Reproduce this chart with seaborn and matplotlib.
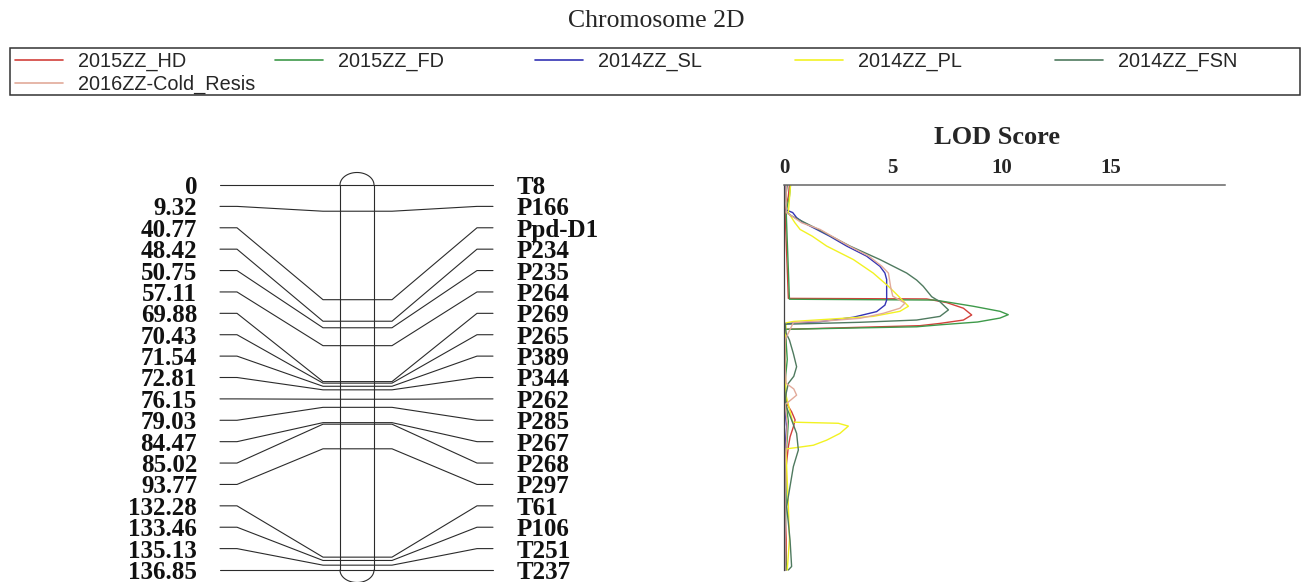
# %%
"""
Mapa de ligamiento del cromosoma 2D con curvas de LOD (estilo MapChart).
"""

import numpy as np
import pandas as pd
import matplotlib
matplotlib.use("Agg")
import matplotlib.pyplot as plt
from matplotlib.lines import Line2D
from matplotlib.patches import Rectangle
import seaborn as sns

# --- datos del mapa ---
positions = [0, 9.32, 40.77, 48.42, 50.75, 57.11, 69.88, 70.43, 71.54, 72.81,
             76.15, 79.03, 84.47, 85.02, 93.77, 132.28, 133.46, 135.13, 136.85]
markers = ["T8", "P166", "Ppd-D1", "P234", "P235", "P264", "P269", "P265", "P389",
           "P344", "P262", "P285", "P267", "P268", "P297", "T61", "P106", "T251", "T237"]
pos_labels = ["0", "9.32", "40.77", "48.42", "50.75", "57.11", "69.88", "70.43",
              "71.54", "72.81", "76.15", "79.03", "84.47", "85.02", "93.77",
              "132.28", "133.46", "135.13", "136.85"]

# --- curvas LOD (posicion cM, LOD) ---
traits = ["2015ZZ_HD", "2015ZZ_FD", "2014ZZ_SL", "2014ZZ_PL", "2014ZZ_FSN",
          "2016ZZ-Cold_Resis"]
colors = ["#d2413b", "#3e9a4a", "#3434b4", "#f2f222", "#4f7a5f", "#e2aa9a"]

hd_cm = [0, 4, 9.3, 20, 30, 40.3, 40.5, 41.8, 43.8, 46.2, 48.0, 49.2, 50.0, 51.3,
         55, 65, 74, 77.7, 80.6, 83.5, 86, 89.5, 93, 100, 115, 126, 136.85]
hd_lod = [0.25, 0.2, 0.05, 0.1, 0.15, 0.2, 6.56, 7.48, 8.25, 8.63, 8.25, 7.17, 6.25,
          0.05, 0.08, 0.05, 0.05, 0.12, 0.35, 0.51, 0.43, 0.28, 0.2, 0.1, 0.05, 0.1, 0.1]

fd_cm = [0, 4, 9.3, 20, 30, 40.6, 40.9, 43.1, 44.9, 46.1, 47.3, 48.7, 49.7, 50.4,
         51.3, 56, 62, 70, 78, 84, 90, 100, 112, 125, 136.85]
fd_lod = [0.3, 0.25, 0.1, 0.15, 0.2, 0.25, 6.95, 8.7, 9.93, 10.31, 9.93, 8.9, 7.17,
          6.1, 0.05, 0.1, 0.15, 0.05, 0.1, 0.2, 0.15, 0.05, 0.1, 0.05, 0.1]

sl_cm = [0, 8.6, 9.8, 11.6, 13.4, 15.8, 18.2, 21.7, 25.3, 28.9, 31.3, 33.6, 40.9,
         42.7, 45.0, 47.0, 48.6, 49.2, 55, 70, 80, 86, 90, 100, 115, 136.85]
sl_lod = [0.05, 0.02, 0.4, 0.58, 0.9, 1.5, 2.1, 2.88, 3.8, 4.41, 4.64, 4.72, 4.72,
          4.64, 4.26, 3.19, 1.66, 0.05, 0.05, 0.03, 0.05, 0.12, 0.08, 0.03, 0.05, 0.05]

pl_cm = [0, 5, 9.8, 11, 13.4, 15.8, 18.2, 21.7, 26.5, 31.3, 36, 39.5, 42.5, 43.1,
         44.9, 46.7, 48.5, 49.0, 55, 65, 75, 84.3, 84.7, 85.7, 88.3, 90.7, 92.5,
         93.3, 93.8, 100, 114, 126, 136.85]
pl_lod = [0.3, 0.25, 0.2, 0.3, 0.5, 0.74, 1.3, 1.96, 3.19, 4.1, 4.8, 5.26, 5.64, 5.72,
          5.33, 4.1, 0.43, 0.1, 0.05, 0.05, 0.1, 0.4, 2.5, 2.96, 2.57, 1.96, 1.35,
          0.6, 0.1, 0.12, 0.2, 0.25, 0.15]

fsn_cm = [0, 3, 9.8, 11, 15.8, 21.7, 26.5, 31.3, 33.8, 36, 39.7, 41.5, 44.4, 46.7,
          48.0, 48.8, 49.5, 52.7, 55.1, 59.9, 64.6, 68, 70.5, 74, 77.7, 83.5, 88.3,
          94.2, 100.1, 108.4, 114.3, 120, 126.4, 135.6, 136.85]
fsn_lod = [0.15, 0.1, 0.12, 0.35, 1.58, 3.03, 4.41, 5.64, 6.1, 6.4, 6.79, 7.17, 7.56,
           7.17, 6.1, 3.5, 0.05, 0.1, 0.25, 0.43, 0.58, 0.45, 0.2, 0.1, 0.05, 0.35,
           0.58, 0.66, 0.43, 0.25, 0.12, 0.2, 0.28, 0.35, 0.2]

cold_cm = [0, 5, 9.8, 11, 13.4, 15.8, 18.2, 21.7, 25.3, 28.9, 31.3, 33.6, 36.1, 39.5,
           42.0, 43.8, 45.6, 47.4, 48.3, 48.9, 55, 65, 70.5, 72.5, 74.7, 76.5, 78,
           85, 100, 120, 136.85]
cold_lod = [0.1, 0.1, 0.1, 0.35, 0.8, 1.66, 2.2, 3.0, 3.9, 4.5, 4.8, 4.85, 4.9, 5.0,
            5.56, 5.33, 4.57, 3.49, 1.96, 0.43, 0.05, 0.05, 0.1, 0.45, 0.58, 0.3,
            0.05, 0.15, 0.05, 0.05, 0.05]

curves = {
    "2015ZZ_HD": (hd_cm, hd_lod),
    "2015ZZ_FD": (fd_cm, fd_lod),
    "2014ZZ_SL": (sl_cm, sl_lod),
    "2014ZZ_PL": (pl_cm, pl_lod),
    "2014ZZ_FSN": (fsn_cm, fsn_lod),
    "2016ZZ-Cold_Resis": (cold_cm, cold_lod),
}

df = pd.concat(
    [pd.DataFrame({"cM": c, "LOD": l, "trait": t}) for t, (c, l) in curves.items()],
    ignore_index=True,
)

# --- estilo ---
sns.set_style("white")
plt.rcParams["font.family"] = ["Liberation Serif", "DejaVu Serif"]

W, H = 1309, 582
scale = 385 / 136.85          # px por cM
y_top_map = (160 - 185) / scale
y_bot = (H - 185) / scale
line_c = "#2b2b2b"

fig = plt.figure(figsize=(W / 100, H / 100), dpi=100)

# --- mapa genetico ---
ax_map = fig.add_axes([0, 0, 760 / W, (H - 160) / H])
ax_map.set_xlim(0, 760)
ax_map.set_ylim(y_bot, y_top_map)
ax_map.axis("off")

n = len(positions)
slots = np.linspace(0, positions[-1], n)
for pos, slot, lab, mk in zip(positions, slots, pos_labels, markers):
    ax_map.plot([220, 237, 323, 392, 477, 493], [slot, slot, pos, pos, slot, slot],
                color=line_c, lw=0.8)
    ax_map.text(197, slot, lab, ha="right", va="center_baseline", fontsize=18,
                fontweight="bold", color="#111111")
    ax_map.text(517, slot, mk, ha="left", va="center_baseline", fontsize=18,
                fontweight="bold", color="#111111")

# cromosoma
x0, x1 = 340, 374
ax_map.plot([x0, x0], [0, positions[-1]], color=line_c, lw=0.8)
ax_map.plot([x1, x1], [0, positions[-1]], color=line_c, lw=0.8)
t = np.linspace(0, np.pi, 60)
cx, rx, ry = (x0 + x1) / 2, (x1 - x0) / 2, 12.5 / scale
ax_map.plot(cx + rx * np.cos(t), 0 - ry * np.sin(t), color=line_c, lw=0.8)
ax_map.plot(cx + rx * np.cos(t), positions[-1] + ry * np.sin(t), color=line_c, lw=0.8)

# --- curvas LOD ---
ax = fig.add_axes([784 / W, 0, 441 / W, (H - 185) / H])
sns.lineplot(data=df, x="LOD", y="cM", hue="trait", palette=dict(zip(traits, colors)),
             sort=False, estimator=None, legend=False, lw=1.0, ax=ax)
ax.set_xlim(0, 441 / 21.75)
ax.set_ylim(y_bot, 0)
ax.set_xlabel("")
ax.set_ylabel("")
ax.xaxis.tick_top()
ax.set_xticks([0, 5, 10, 15])
ax.set_yticks([])
ax.tick_params(axis="x", length=0, pad=5, labelsize=15)
for lab in ax.get_xticklabels():
    lab.set_fontweight("bold")
for s in ["right", "bottom"]:
    ax.spines[s].set_visible(False)
ax.spines["top"].set_color("#666666")
ax.spines["top"].set_linewidth(1.1)
ax.spines["left"].set_color("#444444")
ax.spines["left"].set_linewidth(0.9)
ax.spines["left"].set_bounds(0, positions[-1])

fig.text(997 / W, 1 - 138 / H, "LOD Score", ha="center", va="center",
         fontsize=19, fontweight="bold")
fig.text(656 / W, 1 - 21 / H, "Chromosome 2D", ha="center", va="center",
         fontsize=18.5)

# --- leyenda: columnas de ancho fijo (5 columnas, la 1a con dos entradas) ---
col_groups = [[0, 5], [1], [2], [3], [4]]
col_x = [15, 275, 535, 795, 1055]
for xg, grp in zip(col_x, col_groups):
    hs = [Line2D([], [], color=colors[i], lw=1.2) for i in grp]
    fig.legend(hs, [traits[i] for i in grp], loc="upper left",
               bbox_to_anchor=(xg / W, 1 - 52 / H), frameon=False,
               prop={"family": "Liberation Sans", "size": 14.3},
               handlelength=2.4, handletextpad=0.75, labelspacing=0.2,
               borderpad=0, borderaxespad=0)
fig.patches.append(Rectangle((10 / W, 1 - 95 / H), 1290 / W, 47 / H,
                             transform=fig.transFigure, fill=False,
                             edgecolor="#333333", linewidth=1.1))

fig.savefig("out.png", dpi=100)
